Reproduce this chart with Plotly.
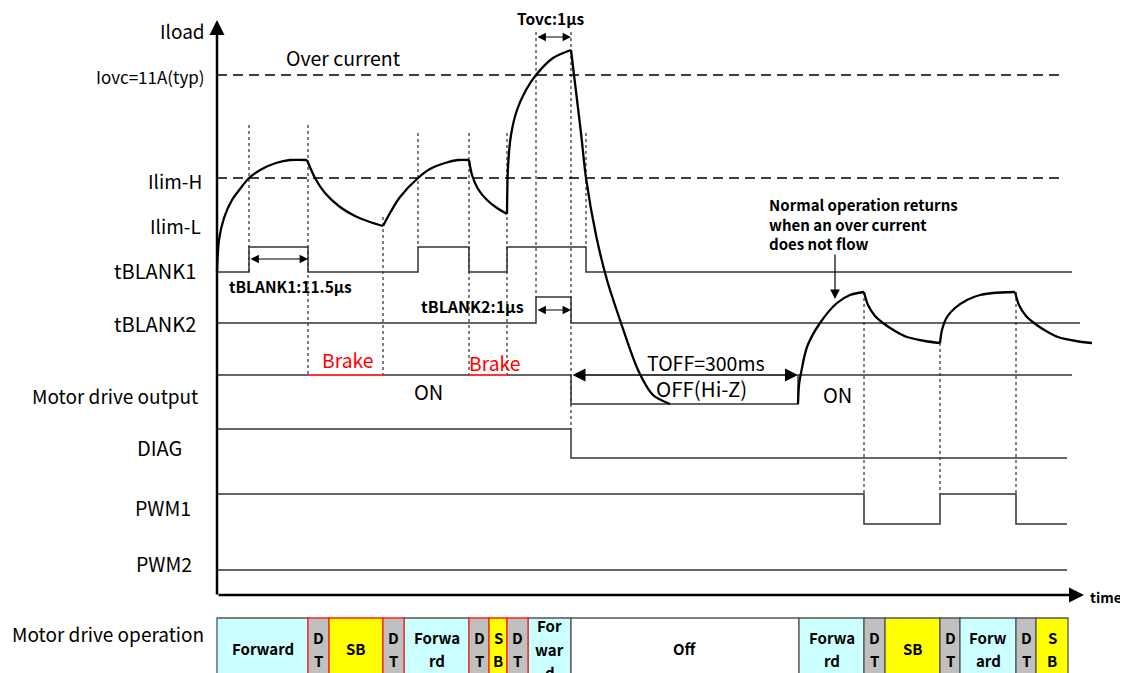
import plotly.graph_objects as go

# Diagram units: x = time (scaled to the drawing), y = vertical level (0 = top)
T_AXIS = 217
T_END = 1067

# ---- load current waveform, one list per segment (corners stay sharp) ----
iload_t = [
    [217, 219, 224, 232, 240, 249, 262, 276, 290, 307],
    [307, 315, 325, 340, 355, 370, 383],
    [383, 390, 400, 418, 430, 445, 458, 469],
    [469, 472, 478, 487, 497, 507],
    [507, 508, 511, 517, 526, 536, 553, 571],
    [571, 574, 581, 586, 596, 607, 620, 638, 653, 670],
    [798, 799, 801, 807, 820, 837, 850, 864],
    [864, 868, 875, 883, 895, 907, 925, 940],
    [940, 942, 947, 955, 967, 980, 993, 1015],
    [1015, 1019, 1026, 1034, 1046, 1058, 1076, 1092],
]
iload_y = [
    [272, 240, 218, 200, 189, 178, 169, 163, 160, 160],
    [160, 178, 193, 207, 216, 222, 226],
    [226, 213, 197, 178, 169, 163, 160, 160],
    [160, 175, 189, 200, 208, 214],
    [214, 167, 135, 110, 90, 75, 58, 50],
    [50, 75, 133, 178, 235, 280, 320, 370, 395, 404],
    [404, 385, 373, 347, 323, 303, 295, 292],
    [292, 305, 316, 323, 331, 337, 341, 343],
    [343, 330, 317, 308, 300, 295, 293, 292],
    [292, 305, 316, 323, 331, 337, 341, 343],
]

# current thresholds
threshold_names = ["Iovc", "Ilim-H"]
threshold_level = [75, 178]

# ---- digital signals: edge times and state after each edge ----
signals = ["tBLANK1", "tBLANK2", "Motor drive output", "DIAG", "PWM1", "PWM2"]
signal_high = [247, 297, 375, 429, 494, 570]
signal_low = [272, 323, 404, 458, 524, 570]
signal_edges = [
    [217, 249, 308, 418, 469, 507, 586, 1072],
    [217, 536, 571, 1080],
    [217, 571, 798, 1072],
    [217, 571, 1067],
    [217, 864, 940, 1016, 1067],
    [217, 1067],
]
signal_states = [
    [0, 1, 0, 1, 0, 1, 0, 0],
    [0, 1, 0, 0],
    [1, 0, 1, 1],
    [1, 0, 0],
    [1, 0, 1, 0, 0],
    [1, 1],
]

# brake intervals on motor drive output
brake_start = [308, 469]
brake_end = [383, 507]

# dotted timing guides
guide_t = [249, 308, 383, 418, 469, 507, 536, 571, 586, 864, 940, 1016]
guide_top = [125, 125, 217, 133, 133, 133, 32, 32, 133, 292, 343, 292]
guide_bottom = [272, 375, 375, 247, 375, 375, 297, 429, 247, 494, 494, 494]

# ---- motor drive operation bar ----
op_labels = ["Forward", "D<br>T", "SB", "D<br>T", "Forwa<br>rd", "D<br>T", "S<br>B",
             "D<br>T", "For<br>war<br>d", "Off", "Forwa<br>rd", "D<br>T", "SB",
             "D<br>T", "Forw<br>ard", "D<br>T", "S<br>B"]
op_kind = ["fwd", "dt", "sb", "dt", "fwd", "dt", "sb", "dt", "fwd", "off",
           "fwd", "dt", "sb", "dt", "fwd", "dt", "sb"]
op_edges = [217, 308, 329, 383, 404, 469, 489, 507, 528, 571, 799,
            864, 885, 940, 960, 1016, 1036, 1068]
op_red_border = [False, True, True, True, False, True, True, True, False, False,
                 False, False, False, False, False, False, False]

kind_color = {"fwd": "#CCFFFF", "dt": "#C0C0C0", "sb": "#FFFF00", "off": "#FFFFFF"}

FONT = "Noto Sans CJK JP"

fig = go.Figure()

# thresholds (dashed)
for lvl in threshold_level:
    fig.add_trace(go.Scatter(
        x=[T_AXIS, 1065], y=[lvl, lvl], mode="lines",
        line=dict(color="black", width=1.3, dash="10px,6px"),
        hoverinfo="skip",
    ))

# dotted guides
gx, gy = [], []
for t, y0, y1 in zip(guide_t, guide_top, guide_bottom):
    gx += [t, t, None]
    gy += [y0, y1, None]
fig.add_trace(go.Scatter(
    x=gx, y=gy, mode="lines",
    line=dict(color="black", width=1, dash="dot"),
    hoverinfo="skip",
))

# digital signals
for hi, lo, edges, states in zip(signal_high, signal_low, signal_edges, signal_states):
    fig.add_trace(go.Scatter(
        x=edges, y=[hi if s else lo for s in states], mode="lines",
        line=dict(color="#333333", width=1.5, shape="hv"),
        hoverinfo="skip",
    ))

# brake segments in red
for b0, b1 in zip(brake_start, brake_end):
    fig.add_trace(go.Scatter(
        x=[b0, b1], y=[signal_high[2]] * 2, mode="lines",
        line=dict(color="#FF3333", width=2),
        hoverinfo="skip",
    ))

# load current
for ts, ys in zip(iload_t, iload_y):
    fig.add_trace(go.Scatter(
        x=ts, y=ys, mode="lines",
        line=dict(color="black", width=2.3, shape="spline", smoothing=0.8),
        hoverinfo="skip",
    ))

# operation bar cells
shapes = []
annotations = []
order = sorted(range(len(op_labels)), key=lambda i: op_red_border[i])
for i in order:
    shapes.append(dict(
        type="rect", xref="x", yref="y",
        x0=op_edges[i], x1=op_edges[i + 1], y0=618, y1=700,
        fillcolor=kind_color[op_kind[i]],
        line=dict(color="#FF2020" if op_red_border[i] else "#555555", width=1.3),
    ))
for i, lab in enumerate(op_labels):
    lines = lab.split("<br>")
    mid = 649 if len(lines) > 1 else 648
    for k, part in enumerate(lines):
        annotations.append(dict(
            x=(op_edges[i] + op_edges[i + 1]) / 2,
            y=mid + (k - (len(lines) - 1) / 2) * 23.5, xref="x", yref="y",
            text=f"<b>{part}</b>", showarrow=False,
            font=dict(family=FONT, size=15, color="black"),
        ))

# row labels on the left
row_labels = ["Iload", "Iovc=11A(typ)", "Ilim-H", "Ilim-L", "tBLANK1", "tBLANK2",
              "Motor drive output", "DIAG", "PWM1", "PWM2"]
row_label_x = [207, 207, 204, 203, 198, 198, 200, 184, 193, 194]
row_label_y = [30, 76, 180, 225, 270, 323, 395, 447, 507, 563]
row_label_size = [19, 17, 19, 19, 20, 20, 19, 20, 19.5, 19.5]
for lab, x, y, s in zip(row_labels, row_label_x, row_label_y, row_label_size):
    annotations.append(dict(
        x=x, y=y, xref="x", yref="y", text=lab, showarrow=False,
        xanchor="right", font=dict(family=FONT, size=s, color="black"),
    ))
annotations.append(dict(
    x=10, y=633, xref="x", yref="y", text="Motor drive operation", showarrow=False,
    xanchor="left", font=dict(family=FONT, size=19, color="black"),
))

# plain text notes
notes = [
    ("Over current", 343, 57, 19.5, "black", False),
    ("ON", 428, 391, 20, "black", False),
    ("ON", 837, 394, 20, "black", False),
    ("TOFF=300ms", 706, 362, 19.5, "black", False),
    ("OFF(Hi-Z)", 701, 388, 20.5, "black", False),
    ("Brake", 347, 360, 19.3, "#FF0000", False),
    ("Brake", 494, 363, 19.3, "#FF0000", False),
    ("Tovc:1μs", 550, 18, 15.5, "black", True),
    ("tBLANK1:11.5μs", 290, 286, 15.5, "black", True),
    ("tBLANK2:1μs", 472, 306, 16, "black", True),
]
for txt, x, y, s, c, bold in notes:
    annotations.append(dict(
        x=x, y=y, xref="x", yref="y", showarrow=False,
        text=f"<b>{txt}</b>" if bold else txt,
        font=dict(family=FONT, size=s, color=c),
    ))
annotations.append(dict(
    x=1088, y=597, xref="x", yref="y", showarrow=False, xanchor="left",
    text="<b>time</b>", font=dict(family=FONT, size=14, color="black"),
))
annotations.append(dict(
    x=767, y=224, xref="x", yref="y", showarrow=False, xanchor="left", align="left",
    text="<b>Normal operation returns<br>when an over current<br>does not flow</b>",
    font=dict(family=FONT, size=15, color="black"),
))

# arrows: (head x, head y, tail x, tail y, width, size, both ends)
arrows = [
    (217, 20, 217, 596, 2.5, 1.2, False),      # Iload axis
    (1084, 595, 217, 595, 2.5, 1.2, False),    # time axis
    (571, 37, 536, 37, 1.2, 1.4, True),        # Tovc
    (308, 259, 249, 259, 1.2, 1.4, True),      # tBLANK1
    (571, 310, 536, 310, 1.2, 1.4, True),      # tBLANK2
    (798, 375, 571, 375, 1.3, 2.0, True),      # TOFF
    (835, 299, 835, 253, 1.2, 1.6, False),     # normal operation returns
]
for hx, hy, tx, ty, w, sz, both in arrows:
    annotations.append(dict(
        x=hx, y=hy, ax=tx, ay=ty, xref="x", yref="y", axref="x", ayref="y",
        text="", showarrow=True, arrowhead=2, arrowsize=sz, arrowwidth=w,
        arrowcolor="black", arrowside="end+start" if both else "end",
        startarrowhead=2, startarrowsize=sz,
    ))

# the page body adds an 8px offset; size the figure to fill the rest of the window
fig.update_layout(
    width=1120, height=665,
    margin=dict(l=0, r=0, t=0, b=0),
    plot_bgcolor="white", paper_bgcolor="white",
    showlegend=False,
    xaxis=dict(range=[8, 1128], visible=False, fixedrange=True),
    yaxis=dict(range=[673, 8], visible=False, fixedrange=True),
    shapes=shapes,
    annotations=annotations,
)

fig.write_html("out.html")
